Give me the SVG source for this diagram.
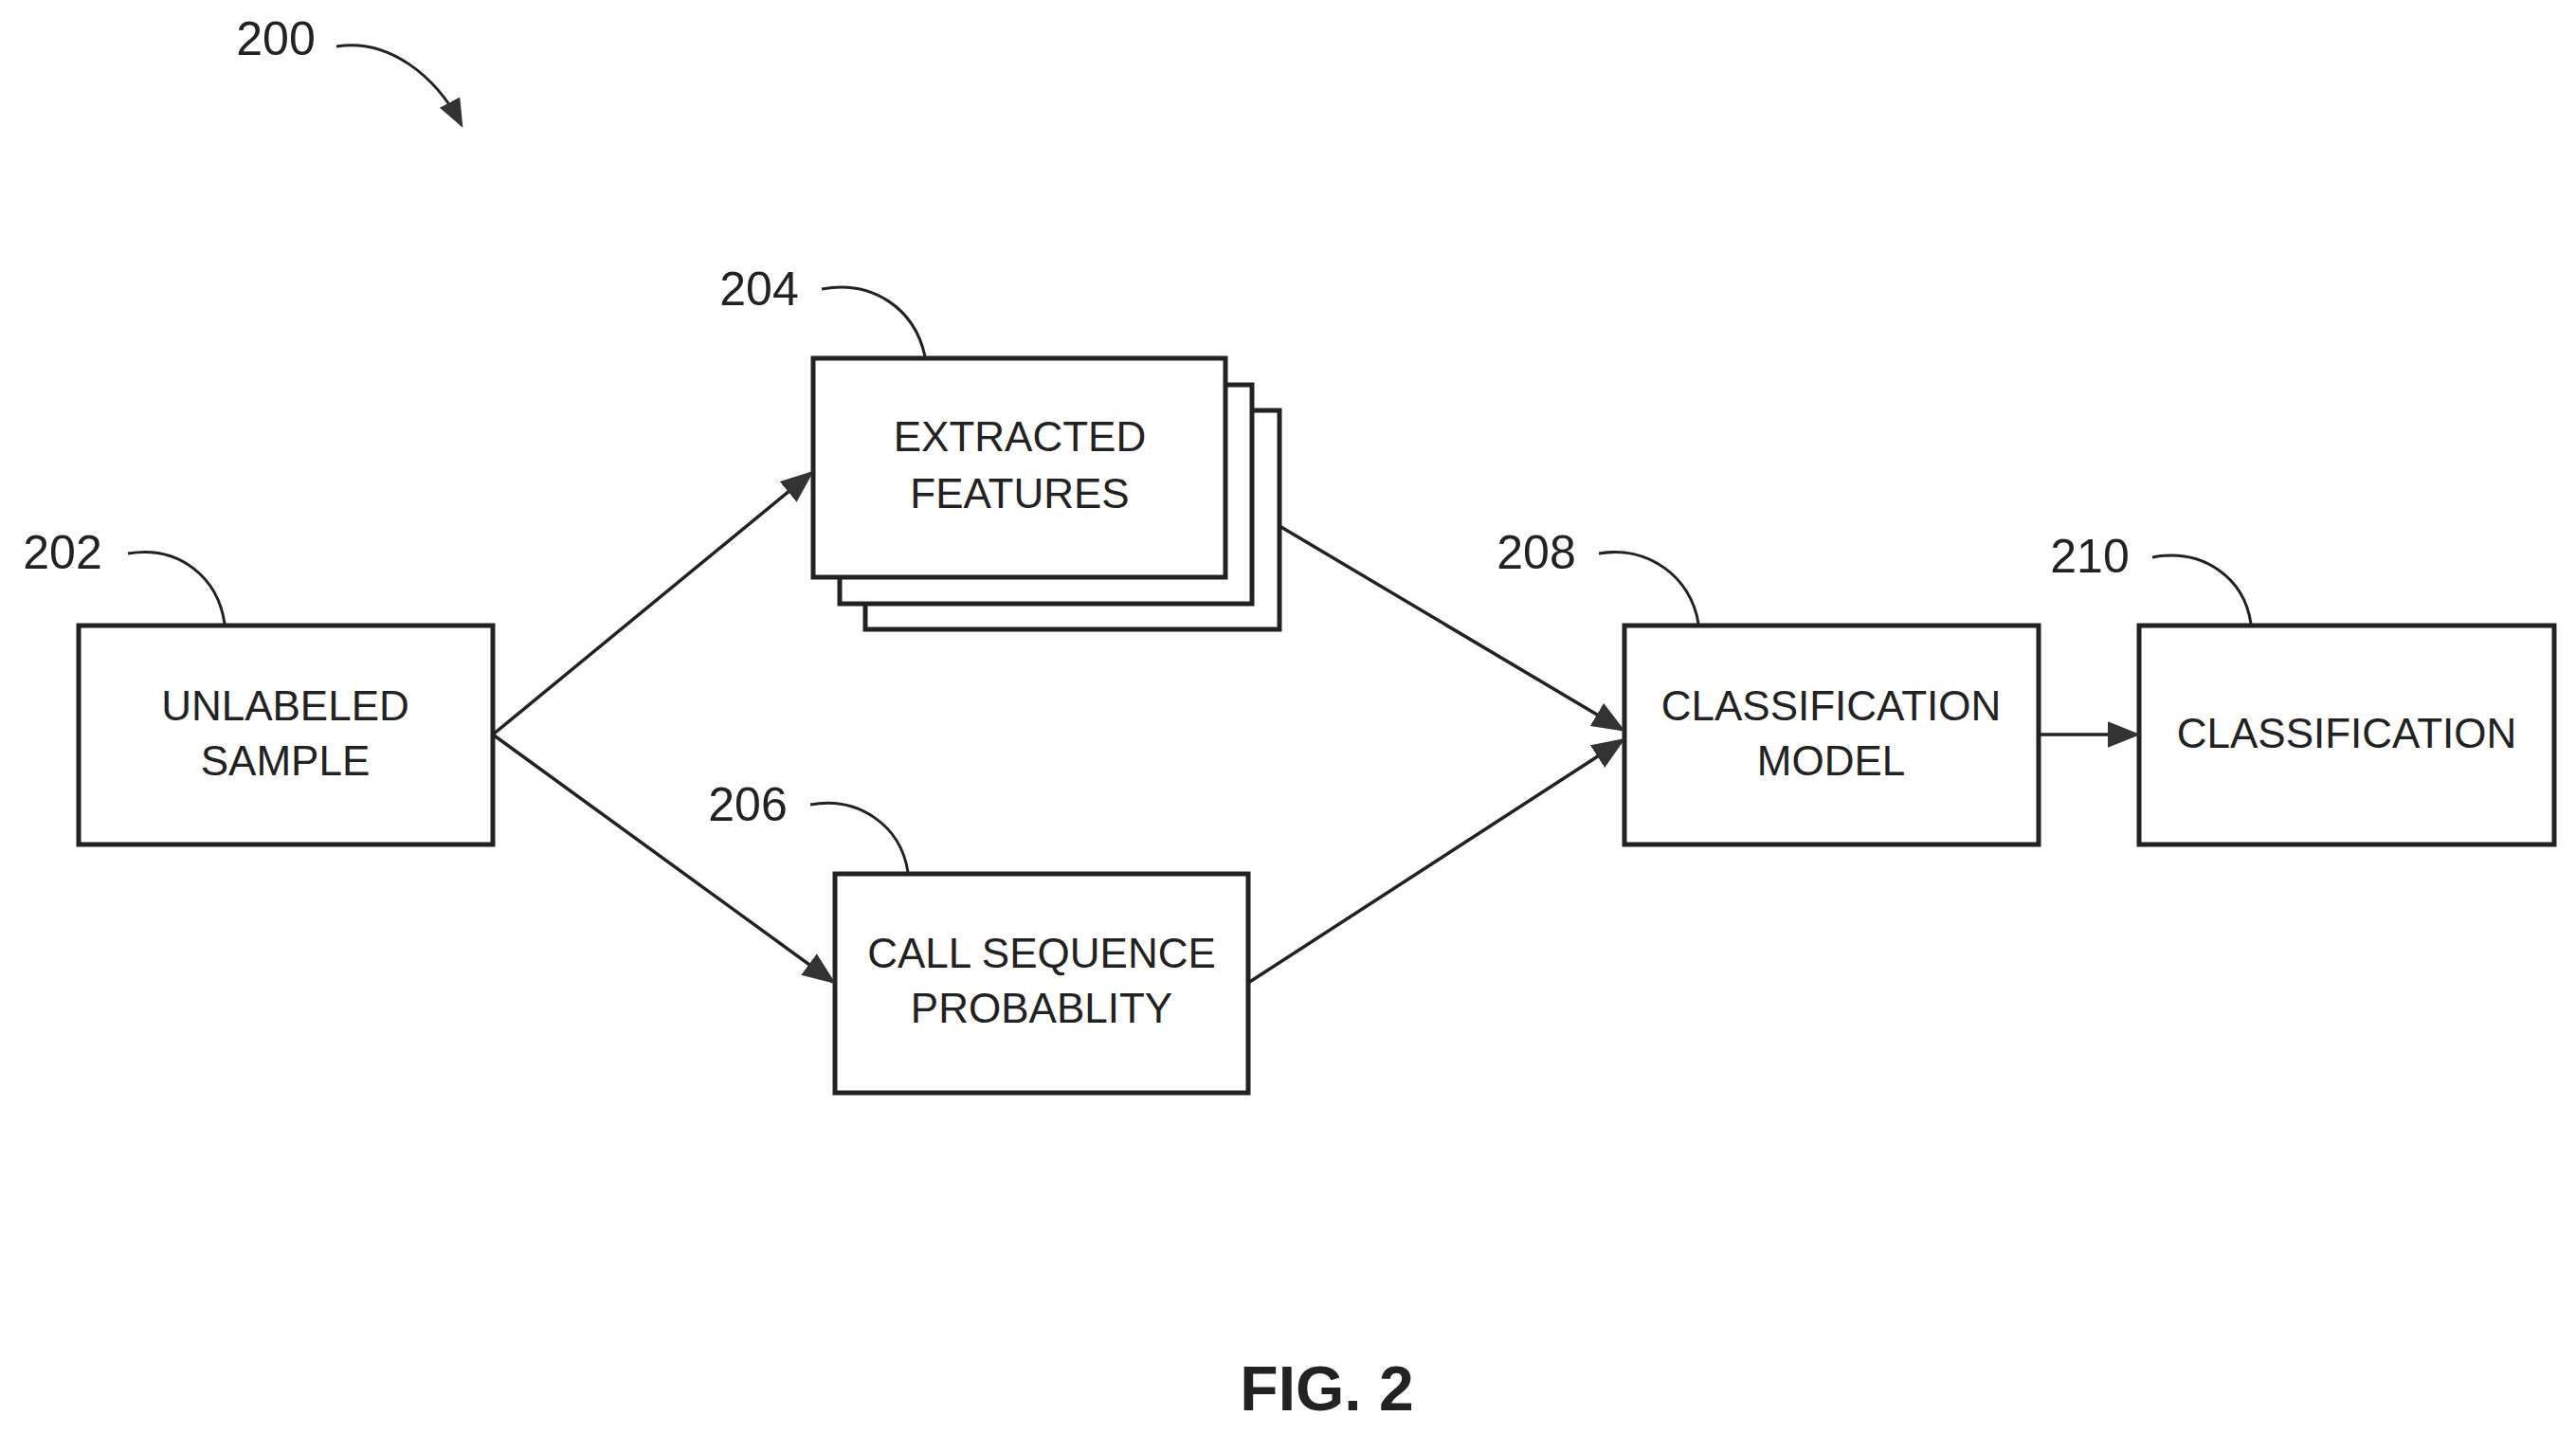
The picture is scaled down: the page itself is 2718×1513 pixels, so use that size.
<svg xmlns="http://www.w3.org/2000/svg" width="2718" height="1513" viewBox="0 0 2718 1513">
<style>
.box{fill:#fff;stroke:#222;stroke-width:5}
.t{font-family:"Liberation Sans",Arial,sans-serif;font-size:44px;fill:#222;text-anchor:middle}
.n{font-family:"Liberation Sans",Arial,sans-serif;font-size:50px;fill:#222;text-anchor:middle}
.c{fill:none;stroke:#222;stroke-width:3.5}
.lead{fill:none;stroke:#222;stroke-width:3}
</style>
<defs>
<marker id="ah" markerWidth="10" markerHeight="8" refX="9" refY="4" orient="auto" markerUnits="strokeWidth">
<path d="M0,0 L10,4 L0,8 Z" fill="#333"/>
</marker>
</defs>
<rect width="2718" height="1513" fill="#fff"/>
<g id="label200">
<text class="n" x="291" y="58">200</text>
<path class="lead" d="M355,49 C410,40 460,80 487,132" marker-end="url(#ah)"/>
</g>
<g id="n202">
<rect class="box" x="83" y="660" width="437" height="231"/>
<text class="t" x="301" y="760">UNLABELED</text>
<text class="t" x="301" y="818">SAMPLE</text>
<text class="n" x="66" y="600">202</text>
<path class="lead" d="M135,584 C190,575 230,610 237,658"/>
</g>
<g id="n204">
<rect class="box" x="913" y="433" width="437" height="231"/>
<rect class="box" x="886" y="406" width="435" height="231"/>
<rect class="box" x="858" y="378" width="435" height="231"/>
<text class="t" x="1076" y="476">EXTRACTED</text>
<text class="t" x="1076" y="536">FEATURES</text>
<text class="n" x="801" y="322">204</text>
<path class="lead" d="M867,305 C920,295 965,325 976,376"/>
</g>
<g id="n206">
<rect class="box" x="881" y="922" width="436" height="231"/>
<text class="t" x="1099" y="1021">CALL SEQUENCE</text>
<text class="t" x="1099" y="1079">PROBABLITY</text>
<text class="n" x="789" y="866">206</text>
<path class="lead" d="M855,849 C905,840 950,870 958,920"/>
</g>
<g id="n208">
<rect class="box" x="1714" y="660" width="437" height="231"/>
<text class="t" x="1932" y="760">CLASSIFICATION</text>
<text class="t" x="1932" y="818">MODEL</text>
<text class="n" x="1621" y="600">208</text>
<path class="lead" d="M1687,584 C1740,575 1785,610 1792,658"/>
</g>
<g id="n210">
<rect class="box" x="2257" y="660" width="438" height="231"/>
<text class="t" x="2476" y="789">CLASSIFICATION</text>
<text class="n" x="2205" y="604">210</text>
<path class="lead" d="M2271,588 C2325,578 2368,610 2375,658"/>
</g>
<g id="connectors">
<line class="c" x1="520" y1="775" x2="856" y2="499" marker-end="url(#ah)"/>
<line class="c" x1="520" y1="775" x2="879" y2="1036" marker-end="url(#ah)"/>
<line class="c" x1="1350" y1="555" x2="1712" y2="770" marker-end="url(#ah)"/>
<line class="c" x1="1317" y1="1037" x2="1712" y2="781" marker-end="url(#ah)"/>
<line class="c" x1="2151" y1="775" x2="2255" y2="775" marker-end="url(#ah)"/>
</g>
<text x="1400" y="1488" font-family="Liberation Sans,Arial,sans-serif" font-size="66" font-weight="bold" fill="#222" text-anchor="middle">FIG. 2</text>
</svg>
